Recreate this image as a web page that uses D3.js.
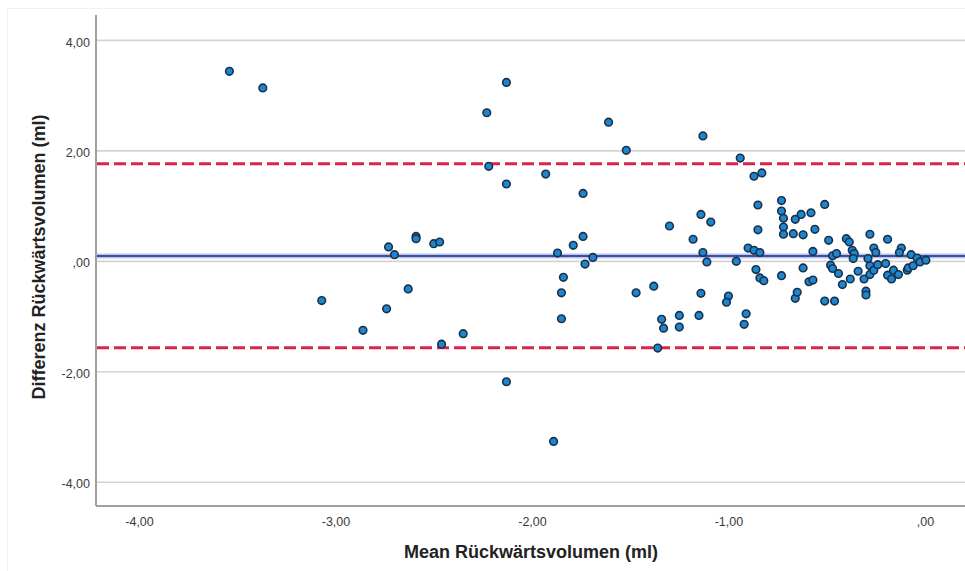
<!DOCTYPE html>
<html><head><meta charset="utf-8">
<script src="https://cdn.jsdelivr.net/npm/d3@7"></script>
<style>
html,body{margin:0;padding:0;background:#fff;}
svg{display:block;}
</style></head>
<body>
<svg id="chart" width="965" height="571"></svg>
<script>
// ---- data ----
const meanValues = [-3.54,-3.37,-3.07,-2.86,-2.74,-2.73,-2.70,-2.63,-2.59,-2.59,-2.50,-2.47,-2.46,-2.35,-2.23,-2.22,-2.13,-2.13,-2.13,-1.93,-1.89,-1.87,-1.84,-1.85,-1.85,-1.79,-1.74,-1.74,-1.73,-1.69,-1.61,-1.52,-1.47,-1.38,-1.36,-1.34,-1.33,-1.30,-1.25,-1.25,-1.18,-1.15,-1.14,-1.14,-1.13,-1.13,-1.11,-1.09,-1.00,-1.01,-0.96,-0.94,-0.92,-0.91,-0.90,-0.87,-0.87,-0.85,-0.85,-0.84,-0.86,-0.84,-0.82,-0.83,-0.73,-0.73,-0.72,-0.72,-0.72,-0.73,-0.67,-0.66,-0.66,-0.65,-0.63,-0.62,-0.62,-0.58,-0.59,-0.57,-0.56,-0.57,-0.51,-0.51,-0.49,-0.48,-0.47,-0.47,-0.46,-0.45,-0.44,-0.42,-0.40,-0.385,-0.38,-0.37,-0.36,-0.365,-0.34,-0.31,-0.30,-0.30,-0.29,-0.28,-0.28,-0.28,-0.26,-0.26,-0.25,-0.24,-0.20,-0.19,-0.19,-0.17,-0.16,-0.135,-0.12,-0.13,-0.09,-0.085,-0.07,-0.06,-0.04,-0.025,0.005];
const diffValues = [3.44,3.14,-0.71,-1.25,-0.86,0.26,0.12,-0.50,0.45,0.41,0.32,0.35,-1.50,-1.31,2.69,1.72,3.24,1.40,-2.18,1.58,-3.26,0.15,-0.29,-0.57,-1.04,0.29,0.45,1.23,-0.05,0.07,2.52,2.01,-0.57,-0.45,-1.57,-1.05,-1.21,0.64,-0.98,-1.19,0.40,-0.98,-0.58,0.85,2.27,0.16,-0.01,0.71,-0.63,-0.74,0.00,1.87,-1.14,-0.95,0.24,0.20,1.54,1.02,0.57,0.16,-0.15,-0.30,-0.35,1.60,1.10,0.91,0.78,0.62,0.49,-0.26,0.50,0.76,-0.67,-0.56,0.85,0.48,-0.12,0.88,-0.37,-0.34,0.58,0.18,1.03,-0.72,0.38,-0.07,-0.13,0.10,-0.72,0.14,-0.22,-0.42,0.41,0.35,-0.32,0.20,0.14,0.05,-0.18,-0.32,-0.54,-0.61,0.05,0.49,-0.08,-0.24,0.24,-0.16,0.16,-0.06,-0.04,0.40,-0.25,-0.32,-0.16,-0.24,0.24,0.16,-0.16,-0.12,0.12,-0.08,0.06,-0.01,0.02];
const meanDiff = 0.095;
const upperLoA = 1.765;
const lowerLoA = -1.566;
const xTicks = [-4, -3, -2, -1, 0];
const xTickLabels = ["-4,00", "-3,00", "-2,00", "-1,00", ",00"];
const yTicks = [4, 2, 0, -2, -4];
const yTickLabels = ["4,00", "2,00", ",00", "-2,00", "-4,00"];
const xTitle = "Mean Rückwärtsvolumen (ml)";
const yTitle = "Differenz Rückwärtsvolumen (ml)";

// ---- drawing ----
(function () {
const svg = d3.select("#chart");
const pLeft = 96, pRight = 965, pTop = 15, pBottom = 506;
const x = d3.scaleLinear().domain([-4.219, 0.204]).range([pLeft, pRight]);
const y = d3.scaleLinear().domain([-4.43, 4.46]).range([pBottom, pTop]);
const font = "'Liberation Sans', Arial, sans-serif";

// faint frame
svg.append("rect").attr("x", 7.5).attr("y", 8.5).attr("width", 970).attr("height", 570)
  .attr("fill", "none").attr("stroke", "#f0f0f0").attr("stroke-width", 1);

// gridlines
svg.append("g").selectAll("line").data(yTicks).join("line")
  .attr("x1", pLeft).attr("x2", pRight)
  .attr("y1", d => y(d)).attr("y2", d => y(d))
  .attr("stroke", "#d4d4d4").attr("stroke-width", 1.6);

// y axis
const yAxis = d3.axisLeft(y).tickValues(yTicks).tickSize(0).tickPadding(6)
  .tickFormat((d, i) => yTickLabels[i]);
const gy = svg.append("g").attr("transform", `translate(${pLeft},0)`).call(yAxis);
gy.select(".domain").remove();
gy.selectAll("text").attr("font-family", font).attr("font-size", 12.5).attr("fill", "#3a3a3a").attr("dy", "0.45em");

// x axis
const xAxis = d3.axisBottom(x).tickValues(xTicks).tickSize(0).tickPadding(11)
  .tickFormat((d, i) => xTickLabels[i]);
const gx = svg.append("g").attr("transform", `translate(0,${pBottom})`).call(xAxis);
gx.select(".domain").remove();
gx.selectAll("text").attr("font-family", font).attr("font-size", 12.5).attr("fill", "#3a3a3a");

// axis lines
svg.append("line").attr("x1", pLeft).attr("x2", pLeft).attr("y1", pTop).attr("y2", pBottom)
  .attr("stroke", "#a0a0a0").attr("stroke-width", 2);
svg.append("line").attr("x1", pLeft).attr("x2", pRight).attr("y1", pBottom).attr("y2", pBottom)
  .attr("stroke", "#a0a0a0").attr("stroke-width", 2);

// mean line (halo + line)
svg.append("line").attr("x1", pLeft + 1).attr("x2", pRight).attr("y1", y(meanDiff)).attr("y2", y(meanDiff))
  .attr("stroke", "#b9c3ea").attr("stroke-width", 5);
svg.append("line").attr("x1", pLeft + 1).attr("x2", pRight).attr("y1", y(meanDiff)).attr("y2", y(meanDiff))
  .attr("stroke", "#3a4ea6").attr("stroke-width", 2);

// limits of agreement
[upperLoA, lowerLoA].forEach(v => {
  svg.append("line").attr("x1", pLeft + 1).attr("x2", pRight).attr("y1", y(v)).attr("y2", y(v))
    .attr("stroke", "#d9254c").attr("stroke-width", 3).attr("stroke-dasharray", "12,5");
});

// points
const pts = meanValues.map((m, i) => ({m, d: diffValues[i]}));
svg.append("g").selectAll("circle").data(pts).join("circle")
  .attr("cx", p => x(p.m)).attr("cy", p => y(p.d)).attr("r", 3.8)
  .attr("fill", "#1f86cc").attr("stroke", "#17314f").attr("stroke-width", 1.6);

// titles
svg.append("text").attr("x", 531).attr("y", 558).attr("text-anchor", "middle")
  .attr("font-family", font).attr("font-weight", "bold").attr("font-size", 18).attr("fill", "#222")
  .text(xTitle);
svg.append("text").attr("transform", "translate(45,257) rotate(-90)").attr("text-anchor", "middle")
  .attr("font-family", font).attr("font-weight", "bold").attr("font-size", 18).attr("fill", "#222")
  .text(yTitle);
})();
</script>
</body></html>
